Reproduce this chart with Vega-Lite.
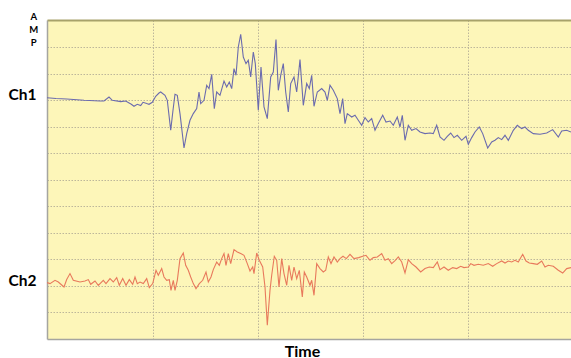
{
  "$schema": "https://vega.github.io/schema/vega-lite/v6.json",
  "width": 524,
  "height": 319,
  "autosize": "none",
  "padding": {"left": 47, "top": 20, "right": 0, "bottom": 19},
  "background": "white",
  "config": {
    "view": {"stroke": null, "fill": "#FDF6B9"},
    "font": "Lato"
  },
  "datasets": {
    "ch1": [
      {"t":0,"amp":241.2},{"t":9,"amp":240.5},{"t":19.7,"amp":240},{"t":37,"amp":238.7},{"t":53,"amp":238},{"t":57,"amp":238},{"t":62,"amp":242},{"t":65.3,"amp":238.7},{"t":73.7,"amp":237.4},{"t":78.7,"amp":238},{"t":84.3,"amp":234.7},{"t":87,"amp":232.7},{"t":90.3,"amp":234.7},{"t":93.7,"amp":233.4},{"t":96,"amp":236.7},{"t":99.7,"amp":235.4},{"t":102,"amp":234.7},{"t":105.3,"amp":236.7},{"t":108.7,"amp":242.7},{"t":112,"amp":246},{"t":113.7,"amp":247},{"t":118,"amp":243.7},{"t":120.3,"amp":238.7},{"t":123.7,"amp":208.7},{"t":126,"amp":228.7},{"t":128,"amp":244.7},{"t":130.3,"amp":243.7},{"t":133,"amp":225.4},{"t":137,"amp":191},{"t":139.7,"amp":205.4},{"t":143,"amp":218.7},{"t":146.3,"amp":225.4},{"t":149.7,"amp":230.4},{"t":152,"amp":247},{"t":153.7,"amp":235.4},{"t":157,"amp":238.7},{"t":159.7,"amp":253.7},{"t":162,"amp":250.4},{"t":164.7,"amp":264.7},{"t":167.3,"amp":230.4},{"t":169.7,"amp":247},{"t":173,"amp":243.7},{"t":177,"amp":258},{"t":179.7,"amp":252},{"t":182.3,"amp":257},{"t":184.7,"amp":250.4},{"t":187,"amp":270.4},{"t":189,"amp":263.7},{"t":191.3,"amp":292},{"t":193.7,"amp":304.7},{"t":196.3,"amp":282},{"t":199,"amp":275.4},{"t":201.3,"amp":278.7},{"t":203.7,"amp":262},{"t":206.3,"amp":287},{"t":208.3,"amp":275.4},{"t":211.3,"amp":228.7},{"t":214,"amp":272},{"t":217,"amp":232},{"t":220.3,"amp":220.4},{"t":223.7,"amp":262},{"t":226.3,"amp":267},{"t":229,"amp":299.4},{"t":231.3,"amp":248.7},{"t":233.7,"amp":263.7},{"t":236.3,"amp":275.4},{"t":238.7,"amp":247},{"t":241.3,"amp":227},{"t":243.7,"amp":255.4},{"t":247,"amp":262},{"t":249.7,"amp":247},{"t":253,"amp":279.4},{"t":256.3,"amp":233.7},{"t":259.7,"amp":255.4},{"t":262.3,"amp":250.4},{"t":264.7,"amp":263.7},{"t":267,"amp":232.7},{"t":270.3,"amp":247},{"t":274.7,"amp":250.4},{"t":278,"amp":247},{"t":280.3,"amp":238.7},{"t":283,"amp":253.7},{"t":286.3,"amp":248.7},{"t":290.3,"amp":240.4},{"t":293,"amp":225.4},{"t":295.7,"amp":240.4},{"t":298,"amp":215.4},{"t":300.3,"amp":225.4},{"t":304.7,"amp":222},{"t":308,"amp":223.7},{"t":311.3,"amp":218.7},{"t":314.7,"amp":213.7},{"t":318,"amp":221.4},{"t":321.3,"amp":217},{"t":324.7,"amp":220.4},{"t":328,"amp":208.7},{"t":331.3,"amp":215.4},{"t":335.7,"amp":223.7},{"t":339,"amp":217},{"t":343,"amp":218},{"t":346.3,"amp":213.7},{"t":350.3,"amp":222},{"t":353,"amp":212},{"t":355.3,"amp":223.7},{"t":358,"amp":198.7},{"t":361.3,"amp":213.7},{"t":364.7,"amp":208.7},{"t":369,"amp":210.4},{"t":373,"amp":207},{"t":378,"amp":205.4},{"t":383,"amp":206},{"t":386.3,"amp":205.4},{"t":389.7,"amp":213.7},{"t":393,"amp":202},{"t":397,"amp":198.7},{"t":400.3,"amp":202.7},{"t":403.7,"amp":206},{"t":407,"amp":201.4},{"t":410.3,"amp":203.7},{"t":414.7,"amp":198.7},{"t":419,"amp":202.7},{"t":421.3,"amp":194.7},{"t":424.7,"amp":201.4},{"t":428,"amp":207},{"t":432.3,"amp":212},{"t":435.7,"amp":205.4},{"t":440.7,"amp":191},{"t":444.7,"amp":197},{"t":448,"amp":198.7},{"t":451.3,"amp":201.4},{"t":454.7,"amp":199.4},{"t":458,"amp":203.7},{"t":461.3,"amp":198.7},{"t":466.3,"amp":208.7},{"t":470.3,"amp":213.7},{"t":474.7,"amp":210.4},{"t":478,"amp":212},{"t":481.3,"amp":208.7},{"t":486.3,"amp":205.4},{"t":493,"amp":204.7},{"t":499.7,"amp":206},{"t":505.7,"amp":209.4},{"t":511.3,"amp":202},{"t":514.7,"amp":208},{"t":519.7,"amp":208.7},{"t":524,"amp":207}
    ],
    "ch2": [
      {"t":0,"amp":56.4},{"t":3,"amp":55.4},{"t":8,"amp":58.7},{"t":11.3,"amp":57},{"t":17,"amp":52},{"t":19.7,"amp":59.4},{"t":23,"amp":65.4},{"t":26.3,"amp":58.7},{"t":33,"amp":57},{"t":38,"amp":58},{"t":41.3,"amp":59.4},{"t":43.7,"amp":54.7},{"t":48,"amp":58},{"t":51.3,"amp":53.7},{"t":56.3,"amp":58.7},{"t":59,"amp":55.4},{"t":63,"amp":60.4},{"t":66.3,"amp":57},{"t":69.7,"amp":61.4},{"t":72.3,"amp":53.7},{"t":75.7,"amp":60.4},{"t":79,"amp":53.7},{"t":82.3,"amp":59.4},{"t":85.7,"amp":54.7},{"t":88,"amp":62},{"t":90.3,"amp":55.4},{"t":93,"amp":57},{"t":96.3,"amp":55.4},{"t":99.7,"amp":60.4},{"t":102.3,"amp":51.4},{"t":105.7,"amp":55.4},{"t":109,"amp":68.7},{"t":111.3,"amp":63.7},{"t":114.7,"amp":70.4},{"t":117,"amp":62},{"t":119.7,"amp":58.7},{"t":122.3,"amp":59.4},{"t":124,"amp":48.7},{"t":126.3,"amp":58.7},{"t":128,"amp":48.7},{"t":130.3,"amp":58.7},{"t":133,"amp":80.4},{"t":136.3,"amp":86},{"t":138.7,"amp":73.7},{"t":141.3,"amp":68.7},{"t":143.7,"amp":62},{"t":146.3,"amp":55.4},{"t":149,"amp":50.4},{"t":152.3,"amp":55.4},{"t":155.7,"amp":58.7},{"t":159,"amp":67},{"t":161.3,"amp":57},{"t":164,"amp":62},{"t":166.3,"amp":69.4},{"t":169.7,"amp":77},{"t":172.3,"amp":73.7},{"t":174.7,"amp":80.4},{"t":177,"amp":85.4},{"t":179,"amp":73.7},{"t":181.3,"amp":85.4},{"t":183.7,"amp":75.4},{"t":187,"amp":89.4},{"t":190.3,"amp":87},{"t":193.7,"amp":85.4},{"t":197,"amp":83.7},{"t":200.3,"amp":75.4},{"t":203,"amp":68},{"t":205.7,"amp":72},{"t":207,"amp":65.4},{"t":209.7,"amp":86},{"t":212.3,"amp":78.7},{"t":215.7,"amp":72},{"t":218,"amp":52},{"t":220.3,"amp":13.7},{"t":223,"amp":48.7},{"t":224.7,"amp":63.7},{"t":227.3,"amp":82.7},{"t":229.7,"amp":78.7},{"t":232,"amp":52},{"t":234.7,"amp":80.4},{"t":237,"amp":65.4},{"t":239.7,"amp":53.7},{"t":242,"amp":73.7},{"t":244.7,"amp":58.7},{"t":247,"amp":72},{"t":249.7,"amp":60.4},{"t":252.3,"amp":68.7},{"t":255.3,"amp":42},{"t":257.3,"amp":67},{"t":259.7,"amp":62},{"t":263,"amp":53.7},{"t":264.7,"amp":58.7},{"t":267,"amp":43.7},{"t":269.7,"amp":75.4},{"t":273,"amp":70.4},{"t":276.3,"amp":67},{"t":278.7,"amp":68.7},{"t":281.3,"amp":82},{"t":284,"amp":75.4},{"t":287,"amp":82},{"t":290.3,"amp":77},{"t":293,"amp":80.4},{"t":296,"amp":82.7},{"t":299.3,"amp":80.4},{"t":303,"amp":84.7},{"t":307,"amp":80.4},{"t":311.7,"amp":81.4},{"t":315.7,"amp":82.7},{"t":319,"amp":83.7},{"t":323,"amp":78.7},{"t":326.3,"amp":81.4},{"t":330.3,"amp":82},{"t":334.7,"amp":85.4},{"t":338,"amp":78.7},{"t":341.3,"amp":80.4},{"t":344.7,"amp":75.4},{"t":348.3,"amp":78.7},{"t":351.3,"amp":82},{"t":354.7,"amp":77},{"t":358,"amp":66},{"t":361.3,"amp":79.4},{"t":364.7,"amp":75.4},{"t":369,"amp":72},{"t":373.7,"amp":67},{"t":378,"amp":70.4},{"t":382.3,"amp":72},{"t":386.3,"amp":71.4},{"t":390.3,"amp":77},{"t":393,"amp":69.4},{"t":397,"amp":72},{"t":401.3,"amp":68.7},{"t":405.7,"amp":71.4},{"t":409.7,"amp":70.4},{"t":413.7,"amp":72.7},{"t":417,"amp":71.4},{"t":421.3,"amp":72},{"t":423.7,"amp":75.4},{"t":427,"amp":73.7},{"t":431.3,"amp":74.7},{"t":436.3,"amp":73.7},{"t":441.3,"amp":75.4},{"t":445.7,"amp":72.7},{"t":449.7,"amp":75.4},{"t":454.7,"amp":78},{"t":458,"amp":76},{"t":461.3,"amp":78},{"t":464.7,"amp":77},{"t":468,"amp":78.7},{"t":471.3,"amp":77},{"t":475.7,"amp":84.7},{"t":479,"amp":78},{"t":482.3,"amp":76},{"t":486.3,"amp":75.4},{"t":490.3,"amp":74.7},{"t":494.7,"amp":78},{"t":498,"amp":72},{"t":501.3,"amp":73.7},{"t":506.3,"amp":72.7},{"t":511.3,"amp":68.7},{"t":515.7,"amp":66},{"t":519.7,"amp":70.4},{"t":524,"amp":71.4}
    ]
  },
  "encoding": {
    "y": {
      "field": "amp", "type": "quantitative",
      "scale": {"domain": [0, 319], "nice": false, "zero": false},
      "axis": {
        "values": [26.55, 53.1, 79.65, 106.2, 132.75, 159.3, 185.85, 212.4, 238.95, 265.5, 292.05],
        "grid": true, "gridColor": "#BDB79A", "gridDash": [1.5, 1.5], "gridWidth": 1,
        "ticks": false,
        "labelExpr": "abs(datum.value - 238.95) < 1 ? 'Ch1' : (abs(datum.value - 53.1) < 1 ? 'Ch2' : '')",
        "labelFont": "Lato", "labelFontSize": 15.5, "labelFontWeight": "bold", "labelColor": "#000000",
        "labelPadding": 11, "labelOffset": -5.5, "labelBaseline": "middle",
        "domain": true, "domainColor": "#A5A5A0", "domainWidth": 1.5,
        "title": ["A", "M", "P"], "titleAngle": 0, "titleFont": "Lato", "titleFontSize": 9.5, "titleFontWeight": "bold",
        "titleColor": "#000000", "titleLineHeight": 13, "titleAlign": "center", "titleBaseline": "top",
        "titleX": -13.7, "titleY": -8.2
      }
    }
  },
  "layer": [
    {
      "data": {"name": "ch1"},
      "mark": {"type": "line", "color": "#6B6BAE", "strokeWidth": 1.1, "clip": true},
      "encoding": {
        "x": {
          "field": "t", "type": "quantitative",
          "scale": {"domain": [0, 524], "nice": false, "zero": false},
          "axis": {
            "orient": "bottom",
            "values": [105.7, 210.7, 315.7, 421.3],
            "grid": true, "gridColor": "#BDB79A", "gridDash": [1.5, 1.5], "gridWidth": 1,
            "ticks": false, "labels": false,
            "domain": true, "domainColor": "#A5A5A0", "domainWidth": 1.5,
            "title": "Time", "titleFont": "Lato", "titleFontSize": 16, "titleFontWeight": "bold", "titleColor": "#000000",
            "titleX": 255, "titleY": 12, "titleBaseline": "middle", "titleAlign": "center"
          }
        }
      }
    },
    {
      "data": {"name": "ch2"},
      "mark": {"type": "line", "color": "#E8795C", "strokeWidth": 1.1, "clip": true},
      "encoding": {
        "x": {
          "field": "t", "type": "quantitative",
          "scale": {"domain": [0, 524], "nice": false, "zero": false},
          "axis": {
            "orient": "top", "grid": false, "ticks": false, "labels": false,
            "domain": true, "domainColor": "#A8A26A", "domainWidth": 2, "title": null
          }
        }
      }
    }
  ],
  "resolve": {"axis": {"x": "independent"}}
}
